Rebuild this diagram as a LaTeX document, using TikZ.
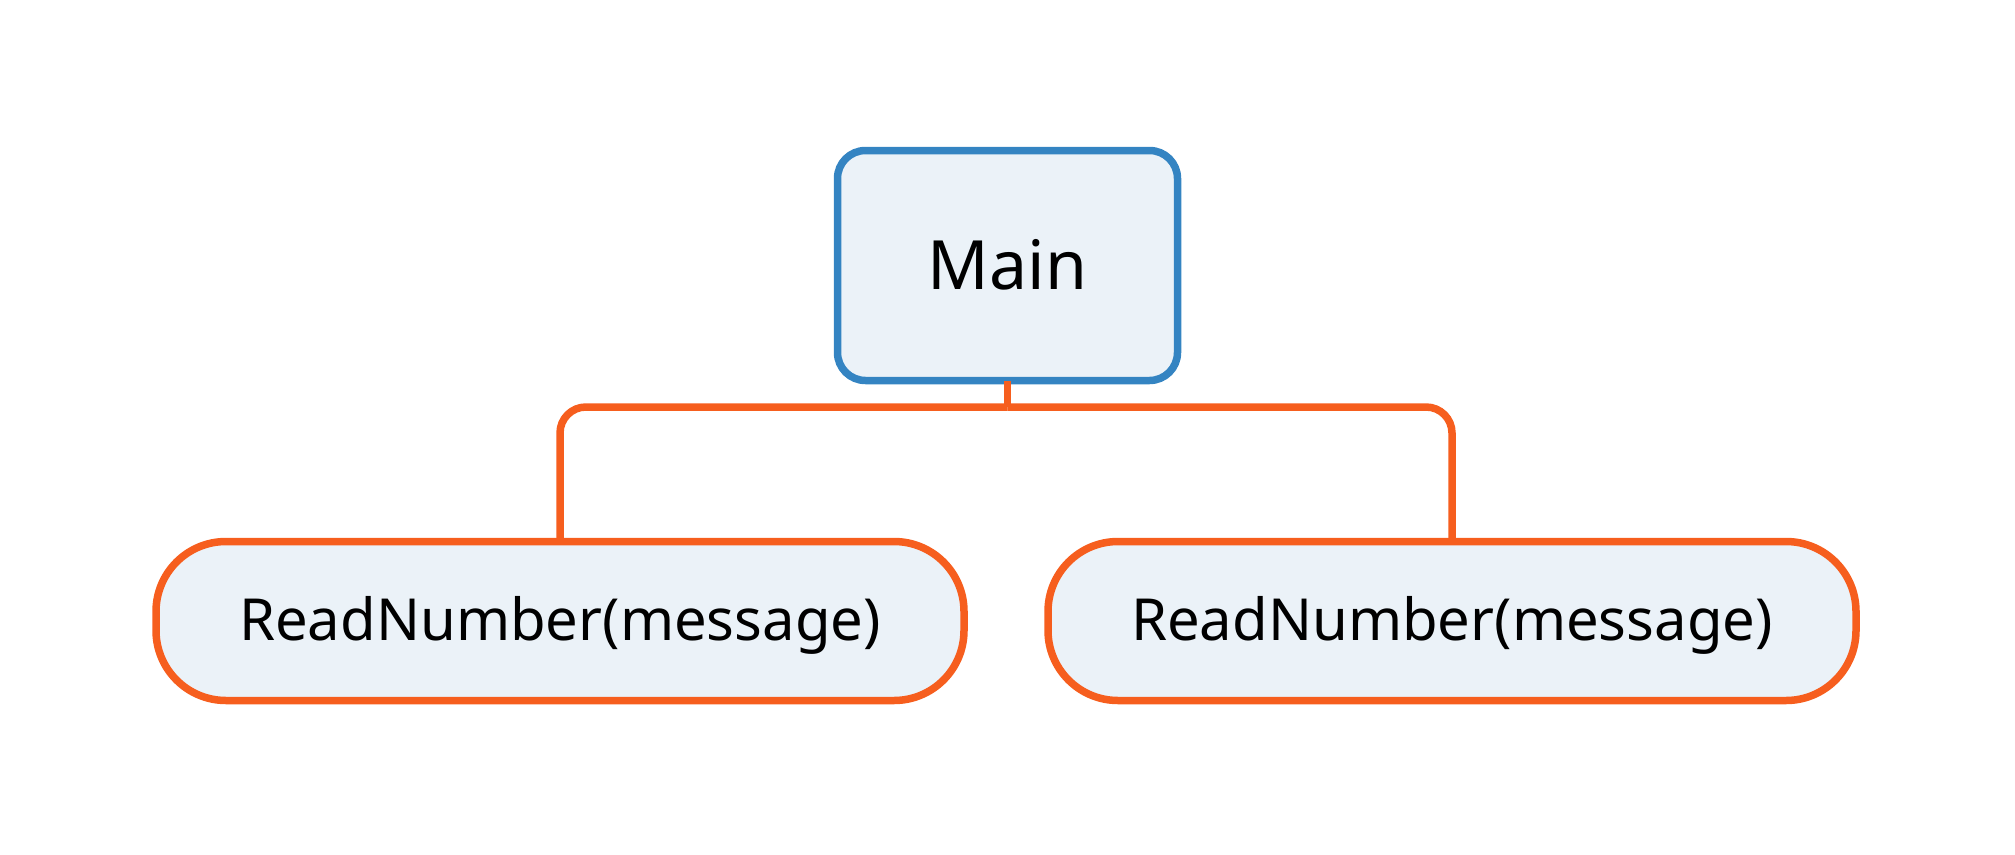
\documentclass[tikz,border=0pt]{standalone}
\usepackage{fontspec}
\setmainfont{Noto Sans}
\definecolor{boxfill}{RGB}{235,242,248}
\definecolor{mainblue}{RGB}{52,132,194}
\definecolor{callorange}{RGB}{246,94,30}
% label set on a fixed baseline below the node centre
\newcommand{\baselabel}[2]{\raisebox{-#1}[0pt][0pt]{#2}}
\begin{document}
\begin{tikzpicture}[x=1pt,y=-1pt,
  mainbox/.style={draw=mainblue, fill=boxfill, line width=7.5pt, rounded corners=28pt,
    minimum width=340pt, minimum height=230pt, inner sep=0pt, outer sep=0pt,
    font=\fontsize{68}{80}\selectfont},
  callbox/.style={draw=callorange, fill=boxfill, line width=7.5pt, rounded corners=70pt,
    minimum width=808pt, minimum height=159pt, inner sep=0pt, outer sep=0pt,
    font=\fontsize{58}{68}\selectfont},
  link/.style={draw=callorange, line width=7.5pt}]
  \useasboundingbox (0,0) rectangle (2015,854);
  \node[mainbox] (main) at (1007.5,265.5) {\baselabel{24pt}{Main}};
  \node[callbox] (left) at (560,621) {\baselabel{19pt}{ReadNumber(message)}};
  \node[callbox] (right) at (1452,621) {\baselabel{19pt}{ReadNumber(message)}};
  \coordinate (split) at (1007.5,407);
  \draw[link] (main.south) -- (split);
  \draw[link, rounded corners=26pt] (split) -| (left.north);
  \draw[link, rounded corners=26pt] (split) -| (right.north);
\end{tikzpicture}
\end{document}
